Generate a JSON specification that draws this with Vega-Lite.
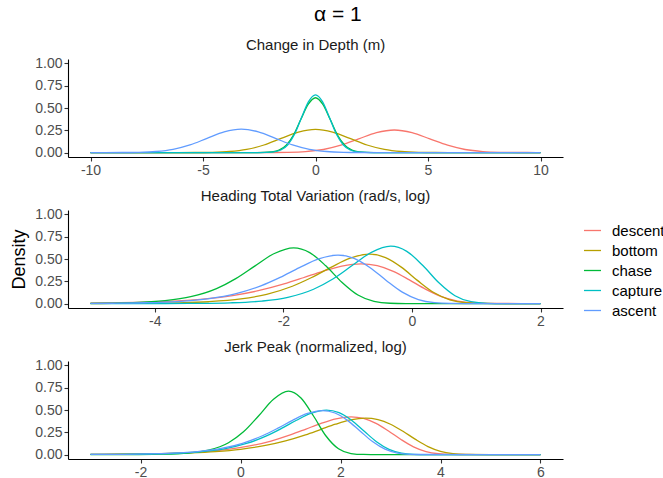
{
  "$schema": "https://vega.github.io/schema/vega-lite/v6.json",
  "autosize": {"type": "pad"},
  "padding": {"left": 10, "top": 4, "right": 0, "bottom": 0},
  "background": "white",
  "title": {"text": "α = 1", "fontSize": 21, "fontWeight": "normal", "font": "Liberation Sans", "color": "black", "anchor": "middle", "offset": 12.8},
  "datasets": {
    "p1": [
      {"phase":"descent","x":-10,"density":0},{"phase":"descent","x":-2.81,"density":0.0001},{"phase":"descent","x":-2.02,"density":0.0006},{"phase":"descent","x":-1.23,"density":0.0028},{"phase":"descent","x":-0.44,"density":0.0111},{"phase":"descent","x":0.35,"density":0.0342},{"phase":"descent","x":1.13,"density":0.0821},{"phase":"descent","x":1.92,"density":0.1534},{"phase":"descent","x":2.71,"density":0.2233},{"phase":"descent","x":3.5,"density":0.253},{"phase":"descent","x":4.29,"density":0.2233},{"phase":"descent","x":5.08,"density":0.1534},{"phase":"descent","x":5.87,"density":0.0821},{"phase":"descent","x":6.65,"density":0.0342},{"phase":"descent","x":7.44,"density":0.0111},{"phase":"descent","x":8.23,"density":0.0028},{"phase":"descent","x":9.02,"density":0.0006},{"phase":"descent","x":9.81,"density":0.0001},{"phase":"descent","x":10,"density":0},
      {"phase":"bottom","x":-10,"density":0},{"phase":"bottom","x":-6.12,"density":0.0001},{"phase":"bottom","x":-5.35,"density":0.0006},{"phase":"bottom","x":-4.59,"density":0.0029},{"phase":"bottom","x":-3.82,"density":0.0115},{"phase":"bottom","x":-3.06,"density":0.0353},{"phase":"bottom","x":-2.29,"density":0.0847},{"phase":"bottom","x":-1.53,"density":0.1583},{"phase":"bottom","x":-0.76,"density":0.2303},{"phase":"bottom","x":0,"density":0.261},{"phase":"bottom","x":0.76,"density":0.2303},{"phase":"bottom","x":1.53,"density":0.1583},{"phase":"bottom","x":2.29,"density":0.0847},{"phase":"bottom","x":3.06,"density":0.0353},{"phase":"bottom","x":3.82,"density":0.0115},{"phase":"bottom","x":4.59,"density":0.0029},{"phase":"bottom","x":5.35,"density":0.0006},{"phase":"bottom","x":6.12,"density":0.0001},{"phase":"bottom","x":10,"density":0},
      {"phase":"chase","x":-10,"density":0},{"phase":"chase","x":-2.6,"density":0.0002},{"phase":"chase","x":-2.27,"density":0.0014},{"phase":"chase","x":-1.95,"density":0.0068},{"phase":"chase","x":-1.62,"density":0.027},{"phase":"chase","x":-1.3,"density":0.0832},{"phase":"chase","x":-0.97,"density":0.1997},{"phase":"chase","x":-0.65,"density":0.373},{"phase":"chase","x":-0.32,"density":0.5427},{"phase":"chase","x":0,"density":0.615},{"phase":"chase","x":0.32,"density":0.5427},{"phase":"chase","x":0.65,"density":0.373},{"phase":"chase","x":0.97,"density":0.1997},{"phase":"chase","x":1.3,"density":0.0832},{"phase":"chase","x":1.62,"density":0.027},{"phase":"chase","x":1.95,"density":0.0068},{"phase":"chase","x":2.27,"density":0.0014},{"phase":"chase","x":2.6,"density":0.0002},{"phase":"chase","x":10,"density":0},
      {"phase":"capture","x":-10,"density":0},{"phase":"capture","x":-2.46,"density":0.0002},{"phase":"capture","x":-2.16,"density":0.0014},{"phase":"capture","x":-1.85,"density":0.0072},{"phase":"capture","x":-1.54,"density":0.0284},{"phase":"capture","x":-1.23,"density":0.0877},{"phase":"capture","x":-0.92,"density":0.2104},{"phase":"capture","x":-0.62,"density":0.393},{"phase":"capture","x":-0.31,"density":0.5719},{"phase":"capture","x":0,"density":0.648},{"phase":"capture","x":0.31,"density":0.5719},{"phase":"capture","x":0.62,"density":0.393},{"phase":"capture","x":0.92,"density":0.2104},{"phase":"capture","x":1.23,"density":0.0877},{"phase":"capture","x":1.54,"density":0.0284},{"phase":"capture","x":1.85,"density":0.0072},{"phase":"capture","x":2.16,"density":0.0014},{"phase":"capture","x":2.46,"density":0.0002},{"phase":"capture","x":10,"density":0},
      {"phase":"ascent","x":-10,"density":0},{"phase":"ascent","x":-9.37,"density":0.0001},{"phase":"ascent","x":-8.61,"density":0.0006},{"phase":"ascent","x":-7.85,"density":0.0029},{"phase":"ascent","x":-7.09,"density":0.0115},{"phase":"ascent","x":-6.33,"density":0.0356},{"phase":"ascent","x":-5.58,"density":0.0854},{"phase":"ascent","x":-4.82,"density":0.1595},{"phase":"ascent","x":-4.06,"density":0.2321},{"phase":"ascent","x":-3.3,"density":0.263},{"phase":"ascent","x":-2.54,"density":0.2321},{"phase":"ascent","x":-1.78,"density":0.1595},{"phase":"ascent","x":-1.02,"density":0.0854},{"phase":"ascent","x":-0.27,"density":0.0356},{"phase":"ascent","x":0.49,"density":0.0115},{"phase":"ascent","x":1.25,"density":0.0029},{"phase":"ascent","x":2.01,"density":0.0006},{"phase":"ascent","x":2.77,"density":0.0001},{"phase":"ascent","x":10,"density":0}
    ],
    "p2": [
      {"phase":"descent","x":-5,"density":0.0047},{"phase":"descent","x":-4.79,"density":0.0063},{"phase":"descent","x":-4.29,"density":0.0126},{"phase":"descent","x":-3.79,"density":0.0248},{"phase":"descent","x":-3.29,"density":0.0479},{"phase":"descent","x":-2.79,"density":0.09},{"phase":"descent","x":-2.39,"density":0.144},{"phase":"descent","x":-1.99,"density":0.22},{"phase":"descent","x":-1.69,"density":0.2895},{"phase":"descent","x":-1.39,"density":0.3616},{"phase":"descent","x":-1.09,"density":0.4211},{"phase":"descent","x":-0.79,"density":0.446},{"phase":"descent","x":-0.54,"density":0.4251},{"phase":"descent","x":-0.29,"density":0.3616},{"phase":"descent","x":-0.04,"density":0.2658},{"phase":"descent","x":0.21,"density":0.162},{"phase":"descent","x":0.46,"density":0.0776},{"phase":"descent","x":0.71,"density":0.0273},{"phase":"descent","x":0.96,"density":0.0064},{"phase":"descent","x":1.21,"density":0.0009},{"phase":"descent","x":1.71,"density":0},{"phase":"descent","x":2,"density":0},
      {"phase":"bottom","x":-5,"density":0.0005},{"phase":"bottom","x":-4.66,"density":0.001},{"phase":"bottom","x":-4.16,"density":0.0028},{"phase":"bottom","x":-3.66,"density":0.0076},{"phase":"bottom","x":-3.16,"density":0.0203},{"phase":"bottom","x":-2.66,"density":0.0516},{"phase":"bottom","x":-2.26,"density":0.1037},{"phase":"bottom","x":-1.86,"density":0.1943},{"phase":"bottom","x":-1.56,"density":0.2919},{"phase":"bottom","x":-1.26,"density":0.4059},{"phase":"bottom","x":-0.96,"density":0.5087},{"phase":"bottom","x":-0.66,"density":0.554},{"phase":"bottom","x":-0.41,"density":0.516},{"phase":"bottom","x":-0.16,"density":0.406},{"phase":"bottom","x":0.09,"density":0.2573},{"phase":"bottom","x":0.34,"density":0.1235},{"phase":"bottom","x":0.59,"density":0.0415},{"phase":"bottom","x":0.84,"density":0.0088},{"phase":"bottom","x":1.09,"density":0.001},{"phase":"bottom","x":1.34,"density":0.0001},{"phase":"bottom","x":2,"density":0},
      {"phase":"chase","x":-5,"density":0.002},{"phase":"chase","x":-4.34,"density":0.0099},{"phase":"chase","x":-3.84,"density":0.0319},{"phase":"chase","x":-3.44,"density":0.0764},{"phase":"chase","x":-3.04,"density":0.168},{"phase":"chase","x":-2.74,"density":0.28},{"phase":"chase","x":-2.44,"density":0.423},{"phase":"chase","x":-2.14,"density":0.5616},{"phase":"chase","x":-1.84,"density":0.625},{"phase":"chase","x":-1.59,"density":0.5718},{"phase":"chase","x":-1.34,"density":0.4234},{"phase":"chase","x":-1.09,"density":0.239},{"phase":"chase","x":-0.84,"density":0.0952},{"phase":"chase","x":-0.59,"density":0.0243},{"phase":"chase","x":-0.34,"density":0.0035},{"phase":"chase","x":-0.09,"density":0.0002},{"phase":"chase","x":0.16,"density":0},{"phase":"chase","x":2,"density":0},
      {"phase":"capture","x":-5,"density":0},{"phase":"capture","x":-4.33,"density":0.0001},{"phase":"capture","x":-3.83,"density":0.0006},{"phase":"capture","x":-3.33,"density":0.0022},{"phase":"capture","x":-2.83,"density":0.008},{"phase":"capture","x":-2.33,"density":0.0277},{"phase":"capture","x":-1.93,"density":0.0699},{"phase":"capture","x":-1.53,"density":0.1607},{"phase":"capture","x":-1.23,"density":0.2754},{"phase":"capture","x":-0.93,"density":0.4265},{"phase":"capture","x":-0.63,"density":0.5752},{"phase":"capture","x":-0.33,"density":0.644},{"phase":"capture","x":-0.08,"density":0.5861},{"phase":"capture","x":0.17,"density":0.4266},{"phase":"capture","x":0.42,"density":0.233},{"phase":"capture","x":0.67,"density":0.088},{"phase":"capture","x":0.92,"density":0.0208},{"phase":"capture","x":1.17,"density":0.0027},{"phase":"capture","x":1.42,"density":0.0002},{"phase":"capture","x":2,"density":0},
      {"phase":"ascent","x":-5,"density":0.0017},{"phase":"ascent","x":-4.65,"density":0.0034},{"phase":"ascent","x":-4.15,"density":0.0088},{"phase":"ascent","x":-3.65,"density":0.0226},{"phase":"ascent","x":-3.15,"density":0.0554},{"phase":"ascent","x":-2.75,"density":0.1083},{"phase":"ascent","x":-2.35,"density":0.1983},{"phase":"ascent","x":-2.05,"density":0.2932},{"phase":"ascent","x":-1.75,"density":0.4026},{"phase":"ascent","x":-1.45,"density":0.5003},{"phase":"ascent","x":-1.15,"density":0.543},{"phase":"ascent","x":-0.9,"density":0.5072},{"phase":"ascent","x":-0.65,"density":0.4027},{"phase":"ascent","x":-0.4,"density":0.2597},{"phase":"ascent","x":-0.15,"density":0.1282},{"phase":"ascent","x":0.1,"density":0.0449},{"phase":"ascent","x":0.35,"density":0.0101},{"phase":"ascent","x":0.6,"density":0.0013},{"phase":"ascent","x":0.85,"density":0.0001},{"phase":"ascent","x":2,"density":0}
    ],
    "p3": [
      {"phase":"descent","x":-3,"density":0.0019},{"phase":"descent","x":-2.29,"density":0.0047},{"phase":"descent","x":-1.79,"density":0.0089},{"phase":"descent","x":-1.29,"density":0.0166},{"phase":"descent","x":-0.79,"density":0.0307},{"phase":"descent","x":-0.29,"density":0.0558},{"phase":"descent","x":0.21,"density":0.0989},{"phase":"descent","x":0.61,"density":0.1516},{"phase":"descent","x":1.01,"density":0.2227},{"phase":"descent","x":1.31,"density":0.2857},{"phase":"descent","x":1.61,"density":0.3497},{"phase":"descent","x":1.91,"density":0.4015},{"phase":"descent","x":2.21,"density":0.423},{"phase":"descent","x":2.46,"density":0.405},{"phase":"descent","x":2.71,"density":0.3497},{"phase":"descent","x":2.96,"density":0.2644},{"phase":"descent","x":3.21,"density":0.1687},{"phase":"descent","x":3.46,"density":0.0865},{"phase":"descent","x":3.71,"density":0.0335},{"phase":"descent","x":3.96,"density":0.009},{"phase":"descent","x":4.21,"density":0.0015},{"phase":"descent","x":4.71,"density":0},{"phase":"descent","x":6,"density":0},
      {"phase":"bottom","x":-3,"density":0.0017},{"phase":"bottom","x":-2.5,"density":0.0031},{"phase":"bottom","x":-2,"density":0.0056},{"phase":"bottom","x":-1.5,"density":0.0103},{"phase":"bottom","x":-1,"density":0.0186},{"phase":"bottom","x":-0.5,"density":0.0335},{"phase":"bottom","x":0,"density":0.0592},{"phase":"bottom","x":0.5,"density":0.1021},{"phase":"bottom","x":0.9,"density":0.1534},{"phase":"bottom","x":1.3,"density":0.2213},{"phase":"bottom","x":1.6,"density":0.2807},{"phase":"bottom","x":1.9,"density":0.3403},{"phase":"bottom","x":2.2,"density":0.3882},{"phase":"bottom","x":2.5,"density":0.408},{"phase":"bottom","x":2.75,"density":0.3914},{"phase":"bottom","x":3,"density":0.3403},{"phase":"bottom","x":3.25,"density":0.2608},{"phase":"bottom","x":3.5,"density":0.1699},{"phase":"bottom","x":3.75,"density":0.0898},{"phase":"bottom","x":4,"density":0.0364},{"phase":"bottom","x":4.25,"density":0.0104},{"phase":"bottom","x":4.5,"density":0.0019},{"phase":"bottom","x":5,"density":0},{"phase":"bottom","x":6,"density":0},
      {"phase":"chase","x":-3,"density":0},{"phase":"chase","x":-2.54,"density":0.0001},{"phase":"chase","x":-2.04,"density":0.0007},{"phase":"chase","x":-1.54,"density":0.0036},{"phase":"chase","x":-1.04,"density":0.0159},{"phase":"chase","x":-0.64,"density":0.0485},{"phase":"chase","x":-0.24,"density":0.1329},{"phase":"chase","x":0.06,"density":0.255},{"phase":"chase","x":0.36,"density":0.4325},{"phase":"chase","x":0.66,"density":0.621},{"phase":"chase","x":0.96,"density":0.712},{"phase":"chase","x":1.21,"density":0.6354},{"phase":"chase","x":1.46,"density":0.4327},{"phase":"chase","x":1.71,"density":0.2082},{"phase":"chase","x":1.96,"density":0.0642},{"phase":"chase","x":2.21,"density":0.0112},{"phase":"chase","x":2.46,"density":0.0009},{"phase":"chase","x":2.71,"density":0},{"phase":"chase","x":6,"density":0},
      {"phase":"capture","x":-3,"density":0.0008},{"phase":"capture","x":-2.28,"density":0.0027},{"phase":"capture","x":-1.78,"density":0.0063},{"phase":"capture","x":-1.28,"density":0.0144},{"phase":"capture","x":-0.78,"density":0.0323},{"phase":"capture","x":-0.28,"density":0.0699},{"phase":"capture","x":0.12,"density":0.1244},{"phase":"capture","x":0.52,"density":0.2093},{"phase":"capture","x":0.82,"density":0.293},{"phase":"capture","x":1.12,"density":0.385},{"phase":"capture","x":1.42,"density":0.464},{"phase":"capture","x":1.72,"density":0.498},{"phase":"capture","x":1.97,"density":0.4696},{"phase":"capture","x":2.22,"density":0.385},{"phase":"capture","x":2.47,"density":0.2639},{"phase":"capture","x":2.72,"density":0.1437},{"phase":"capture","x":2.97,"density":0.0583},{"phase":"capture","x":3.22,"density":0.0161},{"phase":"capture","x":3.47,"density":0.0027},{"phase":"capture","x":3.72,"density":0.0002},{"phase":"capture","x":6,"density":0},
      {"phase":"ascent","x":-3,"density":0.001},{"phase":"ascent","x":-2.36,"density":0.0029},{"phase":"ascent","x":-1.86,"density":0.0067},{"phase":"ascent","x":-1.36,"density":0.0152},{"phase":"ascent","x":-0.86,"density":0.0336},{"phase":"ascent","x":-0.36,"density":0.0717},{"phase":"ascent","x":0.04,"density":0.1264},{"phase":"ascent","x":0.44,"density":0.2107},{"phase":"ascent","x":0.74,"density":0.2933},{"phase":"ascent","x":1.04,"density":0.3836},{"phase":"ascent","x":1.34,"density":0.4609},{"phase":"ascent","x":1.64,"density":0.494},{"phase":"ascent","x":1.89,"density":0.4662},{"phase":"ascent","x":2.14,"density":0.3836},{"phase":"ascent","x":2.39,"density":0.2647},{"phase":"ascent","x":2.64,"density":0.1457},{"phase":"ascent","x":2.89,"density":0.06},{"phase":"ascent","x":3.14,"density":0.017},{"phase":"ascent","x":3.39,"density":0.003},{"phase":"ascent","x":3.64,"density":0.0003},{"phase":"ascent","x":6,"density":0}
    ]
  },
  "spacing": 11,
  "vconcat": [
    {
      "data": {"name": "p1"},
      "title": {"text": "Change in Depth (m)"},
      "width": 495, "height": 98,
      "mark": {"type": "line", "interpolate": "monotone", "strokeWidth": 1.3},
      "encoding": {
        "x": {"field": "x", "type": "quantitative", "scale": {"domain": [-11, 11], "nice": false, "zero": false}, "axis": {"values": [-10, -5, 0, 5, 10], "labelExpr": "'' + datum.value", "title": null}},
        "y": {"field": "density", "type": "quantitative", "scale": {"domain": [-0.05, 1.05], "nice": false, "zero": false}, "axis": {"values": [0, 0.25, 0.5, 0.75, 1], "format": ".2f", "title": null}},
        "color": {"field": "phase", "type": "nominal", "sort": ["descent", "bottom", "chase", "capture", "ascent"], "scale": {"domain": ["descent", "bottom", "chase", "capture", "ascent"], "range": ["#F8766D", "#B79F00", "#00BA38", "#00BFC4", "#619CFF"]}, "legend": {"title": null, "orient": "none", "legendX": 515, "legendY": 162}}
      }
    },
    {
      "data": {"name": "p2"},
      "title": {"text": "Heading Total Variation (rad/s, log)"},
      "width": 495, "height": 98,
      "mark": {"type": "line", "interpolate": "monotone", "strokeWidth": 1.3},
      "encoding": {
        "x": {"field": "x", "type": "quantitative", "scale": {"domain": [-5.35, 2.35], "nice": false, "zero": false}, "axis": {"values": [-4, -2, 0, 2], "labelExpr": "'' + datum.value", "title": null}},
        "y": {"field": "density", "type": "quantitative", "scale": {"domain": [-0.05, 1.05], "nice": false, "zero": false}, "axis": {"values": [0, 0.25, 0.5, 0.75, 1], "format": ".2f", "title": "Density"}},
        "color": {"field": "phase", "type": "nominal", "sort": ["descent", "bottom", "chase", "capture", "ascent"]}
      }
    },
    {
      "data": {"name": "p3"},
      "title": {"text": "Jerk Peak (normalized, log)"},
      "width": 495, "height": 98,
      "mark": {"type": "line", "interpolate": "monotone", "strokeWidth": 1.3},
      "encoding": {
        "x": {"field": "x", "type": "quantitative", "scale": {"domain": [-3.45, 6.45], "nice": false, "zero": false}, "axis": {"values": [-2, 0, 2, 4, 6], "labelExpr": "'' + datum.value", "title": null}},
        "y": {"field": "density", "type": "quantitative", "scale": {"domain": [-0.05, 1.05], "nice": false, "zero": false}, "axis": {"values": [0, 0.25, 0.5, 0.75, 1], "format": ".2f", "title": null}},
        "color": {"field": "phase", "type": "nominal", "sort": ["descent", "bottom", "chase", "capture", "ascent"]}
      }
    }
  ],
  "config": {
    "font": "Liberation Sans",
    "view": {"stroke": null},
    "title": {"fontSize": 15, "fontWeight": "normal", "color": "#1A1A1A", "anchor": "middle", "offset": 3.5},
    "axis": {
      "grid": false,
      "domainColor": "#000000",
      "domainWidth": 1.1,
      "tickColor": "#333333",
      "tickWidth": 1.1,
      "tickSize": 4,
      "labelFontSize": 14,
      "labelColor": "#4D4D4D",
      "labelPadding": 2,
      "titleFontSize": 18,
      "titleFontWeight": "normal",
      "titleColor": "#000000",
      "titlePadding": 6
    },
    "legend": {
      "symbolType": "stroke",
      "symbolStrokeWidth": 1.3,
      "symbolSize": 289,
      "labelFontSize": 15,
      "labelColor": "#000000",
      "rowPadding": 2,
      "labelOffset": 10
    }
  }
}
